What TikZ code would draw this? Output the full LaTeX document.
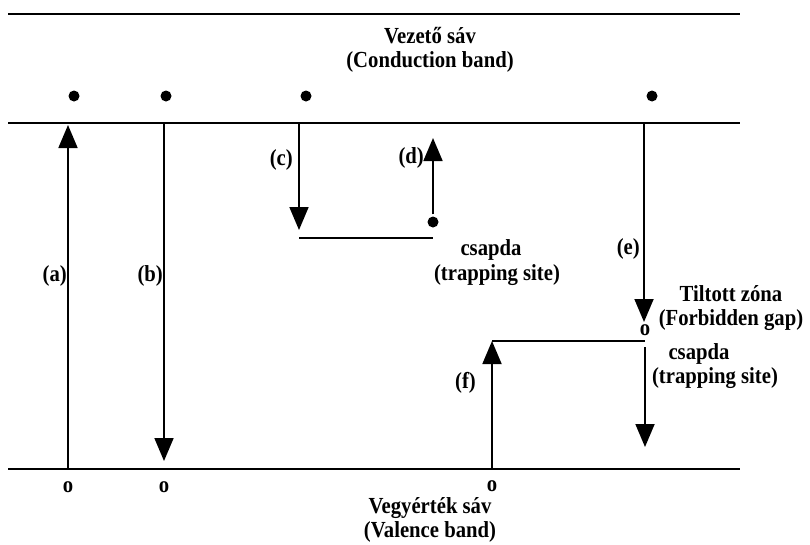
\documentclass[tikz,border=0pt]{standalone}
\usepackage{fontspec}
\setmainfont{Liberation Serif}[FakeStretch=0.9]
\usetikzlibrary{arrows.meta}
\begin{document}
\begin{tikzpicture}[x=1pt,y=-1pt,
  band/.style={line width=2.4pt},
  arr/.style={line width=1.8pt,-{Triangle[width=19pt,length=23pt]}},
  ln/.style={line width=1.8pt},
  lbl/.style={font=\fontsize{23}{24}\selectfont\bfseries, inner sep=0pt, align=center},
  dotn/.style={circle,fill=black,inner sep=0pt,minimum size=11pt}]
\useasboundingbox (0,0) rectangle (810,544);
% bands
\coordinate (tl) at (8,14);   \coordinate (tr) at (740,14);
\coordinate (cl) at (8,123);  \coordinate (cr) at (740,123);
\coordinate (vl) at (8,469);  \coordinate (vr) at (740,469);
\draw[band] (tl) -- (tr);
\draw[band] (cl) -- (cr);
\draw[band] (vl) -- (vr);
% texts
\node[lbl] (cb) at (430,50) {Vezető sáv\\(Conduction band)};
\node[lbl] (vb) at (430,520) {Vegyérték sáv\\(Valence band)};
% electrons
\node[dotn] (e1) at (74,96) {};
\node[dotn] (e2) at (166,96) {};
\node[dotn] (e3) at (306,96) {};
\node[dotn] (e4) at (652,96) {};
% holes
\node[lbl] (h1) at (68,487) {o};
\node[lbl] (h2) at (164,487) {o};
\node[lbl] (h3) at (492,486) {o};
\node[lbl] (h4) at (645,330) {o};
% arrow a
\coordinate (a0) at (68,469); \coordinate (a1) at (68,125);
\draw[arr] (a0) -- (a1);
\node[lbl, anchor=east] (la) at (67,276) {(a)};
% arrow b
\coordinate (b0) at (164,123); \coordinate (b1) at (164,461);
\draw[arr] (b0) -- (b1);
\node[lbl, anchor=east] (lb) at (163,276) {(b)};
% arrow c and trap
\coordinate (c0) at (299,123); \coordinate (c1) at (299,230);
\draw[arr] (c0) -- (c1);
\node[lbl, anchor=east] (lc) at (293,160) {(c)};
\coordinate (t1l) at (299,238); \coordinate (t1r) at (433,238);
\draw[ln] (t1l) -- (t1r);
\node[dotn] (de) at (433,222) {};
\coordinate (d1) at (433,138);
\draw[arr] (de.north) ++(0,-2) -- (d1);
\node[lbl, anchor=east] (ld) at (424,158) {(d)};
\node[lbl] (cs1) at (491,250) {csapda};
\node[lbl] (tr1) at (497,275) {(trapping site)};
% arrow e
\coordinate (e0) at (644,123); \coordinate (e1b) at (644,322);
\draw[arr] (e0) -- (e1b);
\node[lbl, anchor=east] (le) at (640,249) {(e)};
\node[lbl] (tz) at (731,308) {Tiltott zóna\\(Forbidden gap)};
% trap 2 and arrow f
\coordinate (t2l) at (492,341); \coordinate (t2r) at (645,341);
\draw[ln] (t2l) -- (t2r);
\coordinate (f0) at (492,469);
\draw[arr] (f0) -- (t2l);
\node[lbl, anchor=east] (lf) at (476,383) {(f)};
\coordinate (g0) at (645,347); \coordinate (g1) at (645,447);
\draw[arr] (g0) -- (g1);
\node[lbl] (cs2) at (699,354) {csapda};
\node[lbl] (tr2) at (715,378) {(trapping site)};
\end{tikzpicture}
\end{document}
